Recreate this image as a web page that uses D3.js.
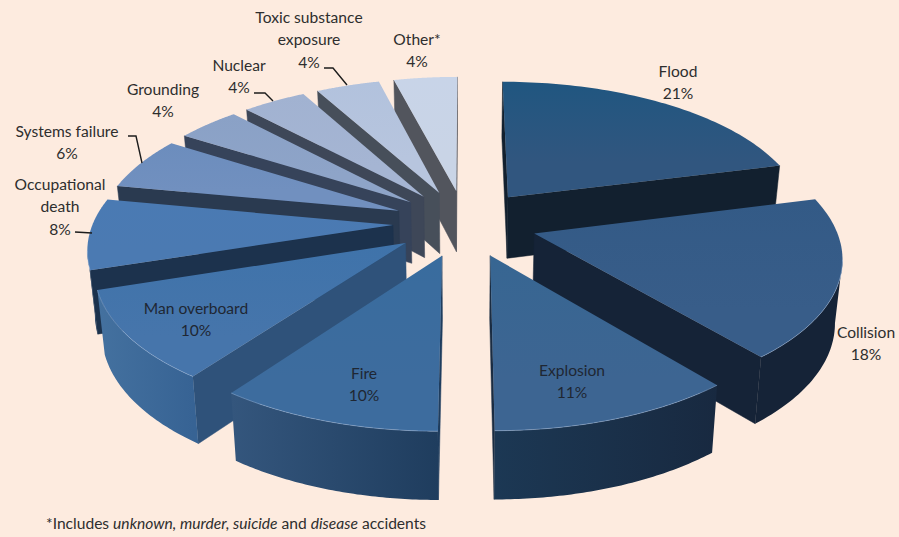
<!DOCTYPE html>
<html>
<head>
<meta charset="utf-8">
<script src="https://cdn.jsdelivr.net/npm/d3@7/dist/d3.min.js"></script>
<style>
html,body{margin:0;padding:0;background:#fdebdf;}
svg{display:block;}
text{font-family:Lato,"Open Sans",sans-serif;font-size:15.6px;fill:#2e2e2e;text-anchor:middle;}
</style>
</head>
<body>
<svg id="chart" width="899" height="537"></svg>
<script>
// Share of accidents by cause, clockwise from twelve o'clock
const categories = ["Flood","Collision","Explosion","Fire","Man overboard","Occupational death","Systems failure","Grounding","Nuclear","Toxic substance exposure","Other*"];
const shares = [21,18,11,10,10,8,6,4,4,4,4];

// Per-slice palette: top face (upper, lower), radial wall, rim (left, right)
const topA  = ["#205680","#335a86","#376692","#396c9e","#3f73aa","#4a7ab3","#6c8dbd","#8aa1c6","#a1b2d1","#b2c2dd","#c8d4e8"];
const topB  = ["#31567f","#385d89","#3d6592","#3d6c9e","#4675ab","#4b7ab2","#7190bf","#8ea4c8","#a5b5d3","#b7c5de","#c9d4e6"];
const wall  = ["#12202f","#152337","#1a2c42","#1f3d5e","#2f527a","#1c324d","#2a3a50","#36435a","#3e4758","#474f5a","#52555d"];
const rimL  = ["#0f1f30","#152337","#1c3854","#34567d","#44719f","#1d3a5c","#2a3a50","#36435a","#3e4758","#474f5a","#52555d"];
const rimR  = ["#12202f","#152337","#182940","#1f3d5e","#376394","#1d3a5c","#2a3a50","#36435a","#3e4758","#474f5a","#52555d"];

// Label lines and anchors for each slice
const labelLines = [["Flood","21%"],["Collision","18%"],["Explosion","11%"],["Fire","10%"],["Man overboard","10%"],["Occupational","death","8%"],["Systems failure","6%"],["Grounding","4%"],["Nuclear","4%"],["Toxic substance","exposure","4%"],["Other*","4%"]];
const labelX = [678,866,572,364,196,60,67,163,239,309,417];
const labelY = [77,338,376,379,314,190,137,95,71,23,45];
const lineStep = 22.3;

// Short leader lines that tie outside labels to their slices
const leaders = [
  [[75,232],[92,233]],
  [[128,136],[136,136],[142,163]],
  [[254,93],[265,93],[273,101]],
  [[324,68],[333,68],[347,85]]
];

// Perspective camera for the tilted, exploded pie
const cx = 465, cy = 223;
const radiusX = 300, tilt = 958, viewDist = 6.88;
const explode = 0.24;
const converge = 0.98;          // bottom plane narrows slightly toward the base
const thickness = v => 62 + 5.5 * v;

function project(u, v) {
  return [cx + radiusX * u * viewDist / (viewDist - v), cy + tilt * v / (viewDist - v)];
}
function lower(u, v) {
  const p = project(u, v);
  return [cx + (p[0] - cx) * converge, p[1] + thickness(v)];
}

const svg = d3.select("#chart");
const defs = svg.append("defs");
const poly = d3.line().curve(d3.curveLinearClosed);
const open = d3.line().curve(d3.curveLinear);

const arcs = d3.pie().sort(null).value(d => d)(shares).map(a => {
  const mid = (a.startAngle + a.endAngle) / 2;
  return {...a, mid, ox: explode * Math.sin(mid), oy: -explode * Math.cos(mid)};
});

const cross = (a, b) => a[0] * b[1] - a[1] * b[0];
const sub = (a, b) => [a[0] - b[0], a[1] - b[1]];
const rimPt = (s, t) => [s.ox + Math.sin(t), s.oy - Math.cos(t)];

// Back-to-front order so nearer slices cover farther ones
const order = arcs.slice().sort((a, b) => d3.descending(Math.cos(a.mid), Math.cos(b.mid)));

order.forEach(s => {
  const i = s.index;
  const g = svg.append("g");
  const angles = d3.range(0, 61).map(k => s.startAngle + (s.endAngle - s.startAngle) * k / 60);
  const rimGround = angles.map(t => rimPt(s, t));
  const rimTop = rimGround.map(p => project(p[0], p[1]));
  const rimBot = rimGround.map(p => lower(p[0], p[1]));
  const apexTop = project(s.ox, s.oy);
  const apexBot = lower(s.ox, s.oy);
  const midTop = rimTop[30];

  // Radial walls, shown only when they face the viewer
  [0, 60].forEach(k => {
    const q = rimTop[k], dir = sub(q, apexTop);
    if (Math.sign(cross(dir, [0, 1])) !== Math.sign(cross(dir, sub(midTop, apexTop)))) {
      g.append("path").attr("fill", wall[i]).attr("stroke", wall[i]).attr("stroke-width", 0.5)
        .attr("d", poly([apexTop, q, rimBot[k], apexBot]));
    }
  });

  // Outer rim: the run of segments facing the viewer
  const vis = d3.range(0, 60).filter(k => {
    const dir = sub(rimTop[k + 1], rimTop[k]);
    return Math.sign(cross(dir, [0, 1])) !== Math.sign(cross(dir, sub(apexTop, rimTop[k])));
  });
  if (vis.length) {
    const a = d3.min(vis), b = d3.max(vis) + 1;
    const top = rimTop.slice(a, b + 1), bot = rimBot.slice(a, b + 1).reverse();
    const xs = top.map(p => p[0]);
    const id = "rim" + i;
    const lg = defs.append("linearGradient").attr("id", id).attr("gradientUnits", "userSpaceOnUse")
      .attr("x1", d3.min(xs)).attr("x2", d3.max(xs)).attr("y1", 0).attr("y2", 0);
    lg.append("stop").attr("offset", 0).attr("stop-color", rimL[i]);
    lg.append("stop").attr("offset", 1).attr("stop-color", rimR[i]);
    g.append("path").attr("fill", `url(#${id})`).attr("d", poly(top.concat(bot)));
  }

  // Top face with a soft vertical shade
  const ys = rimTop.concat([apexTop]).map(p => p[1]);
  const tid = "top" + i;
  const tg = defs.append("linearGradient").attr("id", tid).attr("gradientUnits", "userSpaceOnUse")
    .attr("x1", 0).attr("x2", 0).attr("y1", d3.min(ys)).attr("y2", d3.max(ys));
  tg.append("stop").attr("offset", 0).attr("stop-color", topA[i]);
  tg.append("stop").attr("offset", 0.7).attr("stop-color", topB[i]);
  g.append("path").attr("fill", `url(#${tid})`).attr("d", poly([apexTop].concat(rimTop)));

  // Pale bevel along the front of the top face
  if (vis.length) {
    const a = d3.min(vis), b = d3.max(vis) + 1;
    g.append("path").attr("fill", "none").attr("stroke", "#9dbbe0").attr("stroke-opacity", 0.45)
      .attr("stroke-width", 1).attr("d", open(rimTop.slice(a, b + 1)));
  }
});

// Leader lines
svg.append("g").selectAll("path").data(leaders).join("path")
  .attr("fill", "none").attr("stroke", "#1c1c1c").attr("stroke-width", 1.4)
  .attr("d", d => open(d));

// Slice labels
labelLines.forEach((lines, i) => {
  const t = svg.append("text").attr("x", labelX[i]).attr("y", labelY[i]);
  if (i >= 2 && i <= 4) t.style("fill", "#1f2733");
  lines.forEach((l, k) => {
    t.append("tspan").attr("x", labelX[i]).attr("dy", k ? lineStep : 0).text(l);
  });
});

// Footnote
const note = svg.append("text").attr("x", 46).attr("y", 529).style("text-anchor", "start");
[["*Includes ", false], ["unknown, murder, suicide", true], [" and ", false], ["disease", true], [" accidents", false]]
  .forEach(([str, it]) => note.append("tspan").attr("font-style", it ? "italic" : "normal").text(str));
</script>
</body>
</html>
